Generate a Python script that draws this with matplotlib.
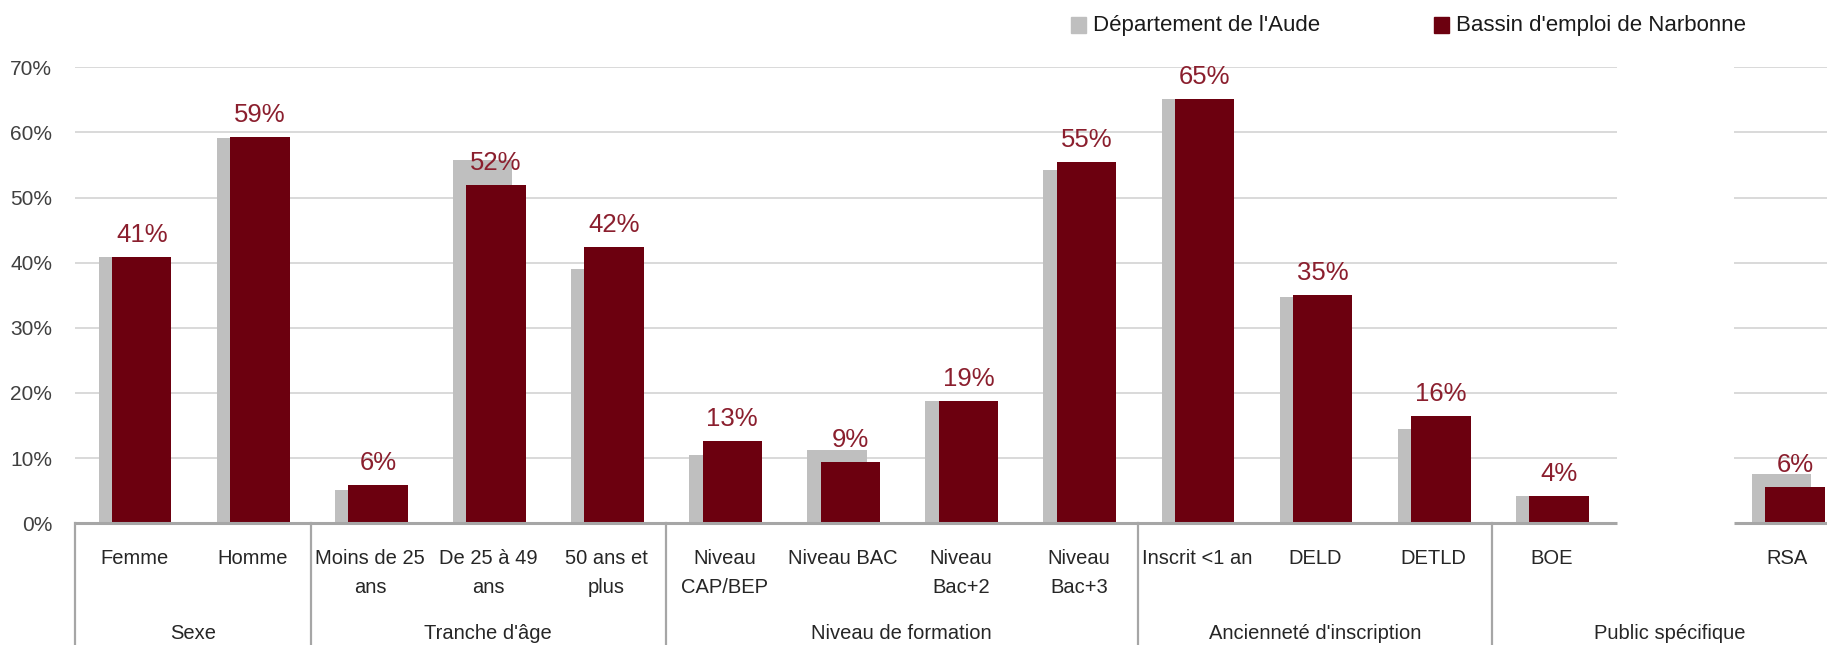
import numpy as np
import matplotlib
matplotlib.use("Agg")
import matplotlib.pyplot as plt
from matplotlib.patches import Rectangle

# données (en %)
categories = ["Femme", "Homme", "Moins de 25\nans", "De 25 à 49\nans", "50 ans et\nplus",
              "Niveau\nCAP/BEP", "Niveau BAC", "Niveau\nBac+2", "Niveau\nBac+3",
              "Inscrit <1 an", "DELD", "DETLD", "BOE", "", "RSA"]
aude = [40.8, 59.1, 5.1, 55.7, 39.1, 10.4, 11.3, 18.7, 54.3, 65.2, 34.7, 14.4, 4.25, np.nan, 7.6]
narbonne = [40.8, 59.3, 5.8, 52.0, 42.4, 12.6, 9.4, 18.7, 55.4, 65.2, 35.0, 16.4, 4.25, np.nan, 5.6]
groups = ["Sexe", "Tranche d'âge", "Niveau de formation", "Ancienneté d'inscription", "Public spécifique"]
group_sizes = [2, 3, 4, 3, 3]
series_names = ["Département de l'Aude", "Bassin d'emploi de Narbonne"]
yticks = [0, 10, 20, 30, 40, 50, 60, 70]

GRAY = "#BFBFBF"
RED = "#6C000F"
LABEL_RED = "#8B1F2E"
AXIS = "#A6A6A6"
GRID = "#D9D9D9"
REG = ["Liberation Sans", "DejaVu Sans"]

W, H = 1827, 645
base_px, top_px, left_px, step_px = 523.2, 67.3, 75, 118.1

fig = plt.figure(figsize=(W / 100, H / 100), dpi=100)
ax = fig.add_axes([left_px / W, (H - base_px) / H, (W - left_px) / W, (base_px - top_px) / H])

x = np.arange(len(categories))
bw = 0.503
ax.bar(x - 0.048, aude, bw, color=GRAY, zorder=2)
ax.bar(x + 0.065, narbonne, bw, color=RED, zorder=2.1)

ax.set_xlim(-0.5, -0.5 + (W - left_px) / step_px)
ax.set_ylim(0, 70)
for s in ax.spines.values():
    s.set_visible(False)

# grille interrompue sur la catégorie vide
gap = (12.555, 13.55)
xmax = 15
for y in yticks[1:]:
    ax.hlines(y, -0.5, gap[0], color=GRID, lw=1.4, zorder=1)
    ax.hlines(y, gap[1], xmax, color=GRID, lw=1.4, zorder=1)
ax.hlines(0, -0.5, gap[0], color=AXIS, lw=2.2, zorder=3, clip_on=False)
ax.hlines(0, gap[1], xmax, color=AXIS, lw=2.2, zorder=3, clip_on=False)

ax.set_yticks(yticks)
ax.set_yticklabels([f"{v}%" for v in yticks])
ax.tick_params(axis="y", length=0, pad=16.5, labelsize=15, labelcolor="#404040")
for lbl in ax.get_yticklabels():
    lbl.set_family(REG)
ax.set_xticks([])

# étiquettes de valeurs
for xi, v in zip(x, narbonne):
    if np.isnan(v):
        continue
    ax.annotate(f"{v:.0f}%", (xi + 0.065, v), textcoords="offset pixels", xytext=(0, 15),
                ha="center", va="baseline", fontsize=18.5, color=LABEL_RED, family=REG)

# axe des catégories à deux niveaux
tr = ("data", "axes fraction")
for xi, lab in zip(x, categories):
    for j, line in enumerate(lab.split("\n")):
        ax.annotate(line, (xi, 0), xycoords=tr, textcoords="offset pixels",
                    xytext=(0, -41 - 29 * j), ha="center", va="baseline",
                    fontsize=14.5, color="#262626", family=REG, annotation_clip=False)

start = -0.5
for g, n in zip(groups, group_sizes):
    ax.plot([start, start], [0, -(H - base_px) / (base_px - top_px) - 0.01], transform=ax.get_xaxis_transform(),
            color=AXIS, lw=1.6, clip_on=False, zorder=3)
    ax.annotate(g, (start + n / 2, 0), xycoords=tr, textcoords="offset pixels",
                xytext=(0, -116), ha="center", va="baseline", fontsize=14.5,
                color="#262626", family=REG, annotation_clip=False)
    start += n

# légende
for (sx, tx), name, col in zip([(1071, 1093), (1434, 1456)], series_names, [GRAY, RED]):
    fig.add_artist(Rectangle((sx / W, 1 - 32.5 / H), 15 / W, 15 / H,
                             transform=fig.transFigure, color=col))
    fig.text(tx / W, 1 - 25 / H, name, ha="left", va="center", fontsize=16,
             color="#1A1A1A", family=REG)

fig.savefig("out.png", dpi=100)
